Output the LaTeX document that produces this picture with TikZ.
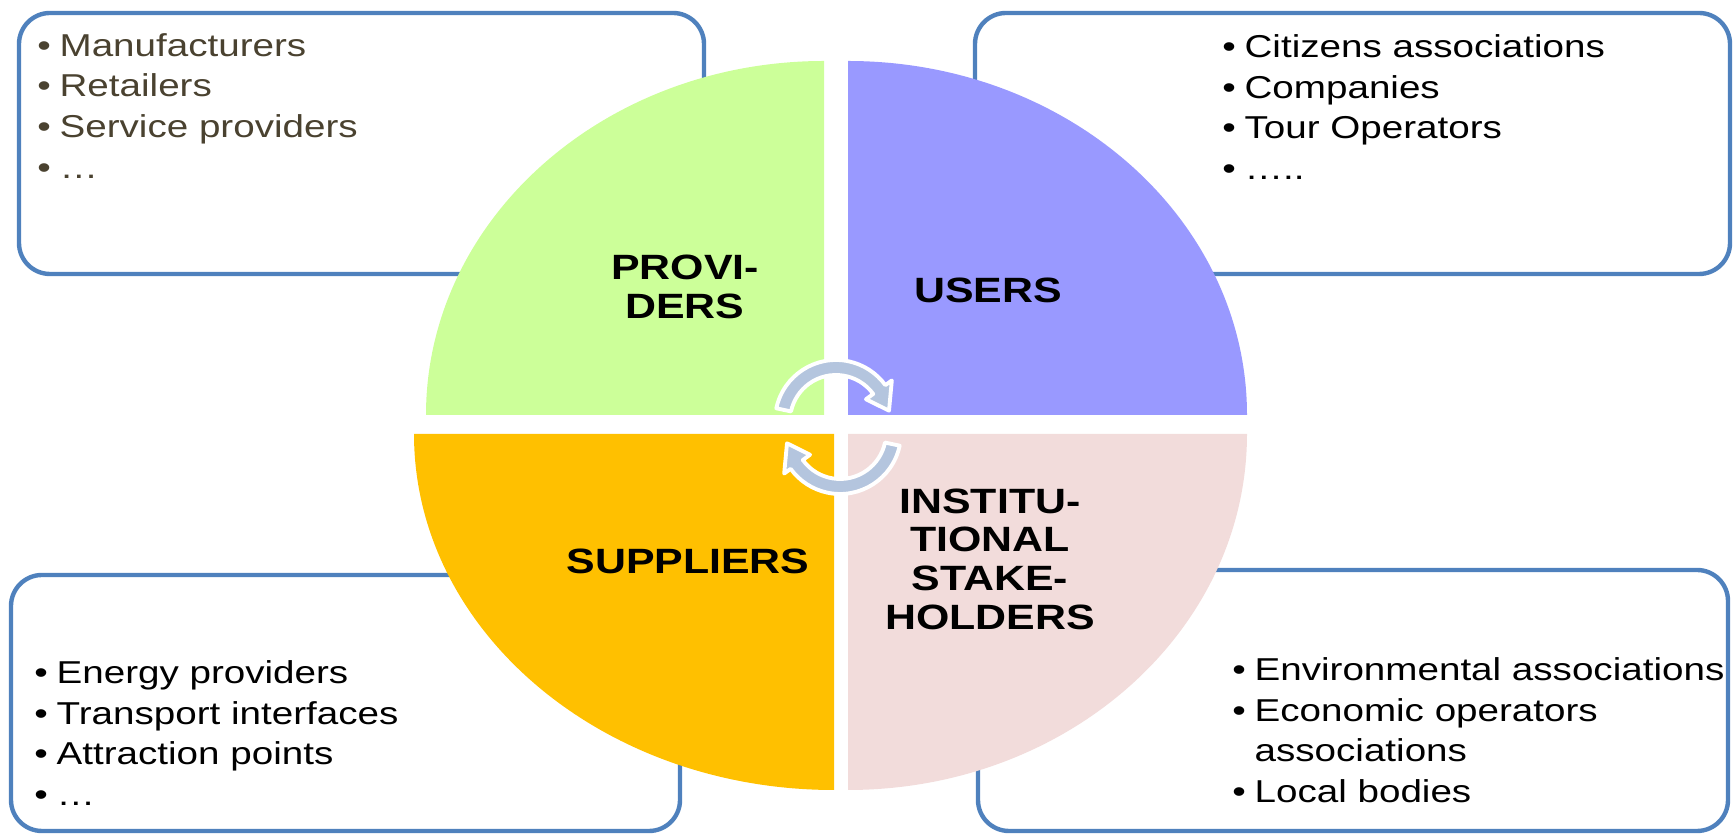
\documentclass[tikz,border=0pt]{standalone}
\usepackage{fontspec}
\setmainfont{Liberation Sans}[FakeStretch=1.22]
\usetikzlibrary{calc}
\definecolor{boxblue}{RGB}{79,129,189}
\definecolor{provgreen}{RGB}{204,255,153}
\definecolor{userblue}{RGB}{153,153,255}
\definecolor{supporange}{RGB}{255,192,0}
\definecolor{instpink}{RGB}{242,220,219}
\definecolor{arrowblue}{RGB}{180,197,222}
\definecolor{provtext}{RGB}{74,66,48}

\begin{document}
\begin{tikzpicture}[listbox/.style={draw=boxblue,line width=2.5pt,rounded corners=0.62cm},
  biglabel/.style={align=center,inner sep=0pt,font=\fontsize{20}{22}\selectfont\bfseries},
  items/.style={align=left,anchor=north west,inner sep=0pt,font=\fontsize{18}{23.2}\selectfont},
  swaparrow/.style={fill=arrowblue,draw=white,line width=2.2pt,line join=round}]
\useasboundingbox (0,0) rectangle (34.66,16.72);
% boxes behind the circle
\draw[listbox] (0.38,11.24) rectangle (14.08,16.46);
\draw[listbox] (19.50,11.24) rectangle (34.60,16.46);
\draw[listbox] (0.22,0.10) rectangle (13.60,5.22);
\draw[listbox] (19.56,0.10) rectangle (34.56,5.32);
% the four quarters
\fill[provgreen] (16.48,8.42) -- ++(-7.96,0) arc[start angle=180,end angle=90,x radius=7.96,y radius=7.08] -- cycle;
\fill[userblue] (16.96,8.42) -- ++(0,7.08) arc[start angle=90,end angle=0,x radius=7.98,y radius=7.08] -- cycle;
\fill[supporange] (16.68,8.04) -- ++(-8.40,0) arc[start angle=180,end angle=270,x radius=8.40,y radius=7.12] -- cycle;
\fill[instpink] (16.96,8.04) -- ++(7.98,0) arc[start angle=0,end angle=-90,x radius=7.98,y radius=7.12] -- cycle;
\node[biglabel] (prov) at (13.70,10.98) {PROVI-\\DERS};
\node[biglabel] (users) at (19.76,10.92) {USERS};
\node[biglabel] (supp) at (13.76,5.50) {SUPPLIERS};
\node[biglabel] (inst) at (19.80,5.54) {INSTITU-\\TIONAL\\STAKE-\\HOLDERS};
% round arrows in the middle
\begin{scope}[shift={(16.72,8.30)}]
  \draw[swaparrow] (168:1.22) arc[start angle=168,end angle=36,radius=1.22] -- (36:1.38) -- (11:1.08) -- (36:0.74) -- (36:0.92) arc[start angle=36,end angle=168,radius=0.92] -- cycle;
\end{scope}
\begin{scope}[shift={(16.80,8.06)},rotate=180]
  \draw[swaparrow] (168:1.22) arc[start angle=168,end angle=36,radius=1.22] -- (36:1.38) -- (11:1.08) -- (36:0.74) -- (36:0.92) arc[start angle=36,end angle=168,radius=0.92] -- cycle;
\end{scope}
% lists
\node[items,text=provtext] (provlist) at (0.74,16.06) {\textbullet\hspace{5pt}Manufacturers\\\textbullet\hspace{5pt}Retailers\\\textbullet\hspace{5pt}Service providers\\\textbullet\hspace{5pt}…};
\node[items] (userlist) at (24.44,16.04) {\textbullet\hspace{5pt}Citizens associations\\\textbullet\hspace{5pt}Companies\\\textbullet\hspace{5pt}Tour Operators\\\textbullet\hspace{5pt}…..};
\node[items] (supplist) at (0.68,3.52) {\textbullet\hspace{5pt}Energy providers\\\textbullet\hspace{5pt}Transport interfaces\\\textbullet\hspace{5pt}Attraction points\\\textbullet\hspace{5pt}…};
\node[items] (instlist) at (24.64,3.58) {\textbullet\hspace{5pt}Environmental associations\\\textbullet\hspace{5pt}Economic operators\\\hphantom{\textbullet}\hspace{5pt}associations\\\textbullet\hspace{5pt}Local bodies};
\end{tikzpicture}
\end{document}
